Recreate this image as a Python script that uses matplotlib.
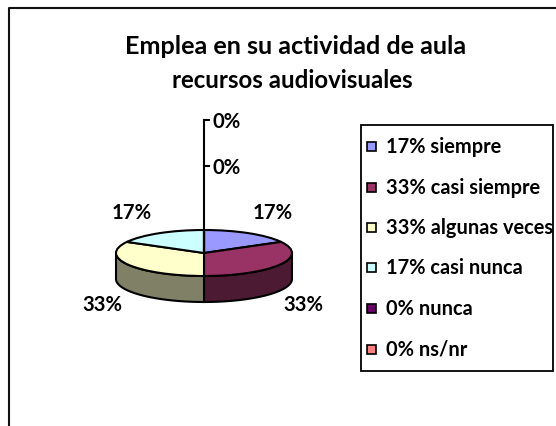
import numpy as np
import matplotlib
matplotlib.use("Agg")
import matplotlib.pyplot as plt
from matplotlib.patches import Rectangle

W, H = 556, 426
CX, CY, RX, RY, DEPTH = 204, 253, 88, 23, 26

categories = ["siempre", "casi siempre", "algunas veces", "casi nunca", "nunca", "ns/nr"]
percents = [17, 33, 33, 17, 0, 0]
face_colors = ["#9999FF", "#993366", "#FFFFCC", "#CCFFFF", "#660066", "#FF8080"]
side_colors = ["#4D4D80", "#4D1A33", "#808066", "#668080", "#330033", "#804040"]
title_lines = ["Emplea en su actividad de aula", "recursos audiovisuales"]

plt.rcParams["font.family"] = ["Lato", "DejaVu Sans"]
FS_LABEL = 14.6
FS_LEGEND = 14.4
FS_TITLE = [18.2, 17.3]
LW = 1.5
BLK = "#000000"

fig = plt.figure(figsize=(W / 100, H / 100), dpi=100, facecolor="white")
ax = fig.add_axes([0, 0, 1, 1])
wedges, _ = ax.pie(percents, colors=face_colors, startangle=90, counterclock=False,
                   wedgeprops=dict(edgecolor=BLK, linewidth=LW, zorder=3))
ax.set_aspect("auto")
ax.set_xlim(-CX / RX, (W - CX) / RX)
ax.set_ylim((CY - H) / RY, CY / RY)


def px(x, y):
    return (x - CX) / RX, (CY - y) / RY


# side walls of the disc, from the wedge angles
d = DEPTH / RY
for w, col in zip(wedges, side_colors):
    a, b = w.theta1, w.theta2
    if b <= a:
        continue
    angles = np.linspace(a, b, 200)
    front = angles[np.sin(np.radians(angles)) <= 0]
    if front.size == 0:
        continue
    xs, ys = np.cos(np.radians(front)), np.sin(np.radians(front))
    poly_x = np.r_[xs, xs[::-1]]
    poly_y = np.r_[ys, ys[::-1] - d]
    ax.fill(poly_x, poly_y, facecolor=col, edgecolor=BLK, linewidth=LW, zorder=2)

# value axis
ax.plot(*zip(px(CX, 120), px(CX, CY)), color=BLK, lw=LW, zorder=4)
for y in (120, 166):
    ax.plot(*zip(px(CX, y), px(CX + 5, y)), color=BLK, lw=LW, zorder=4)

# data labels
label_pos = [(273, 213), (303, 305), (102, 305), (132, 213), (227, 168), (227, 122)]
for p, (x, y) in zip(percents, label_pos):
    ax.text(*px(x, y), f"{p}%", ha="center", va="center", fontsize=FS_LABEL, fontweight="bold", color=BLK)

# title
for line, x, y, fs in zip(title_lines, (296, 292), (47, 81), FS_TITLE):
    ax.text(*px(x, y), line, ha="center", va="center", fontsize=fs, fontweight="bold", color=BLK)

# chart frame
ax.plot(*zip(px(9, H + 2), px(9, 8), px(W + 2, 8)), color="#111111", lw=1.5, zorder=5, clip_on=True)

# legend
labels = [f"{p}% {c}" for p, c in zip(percents, categories)]
ax.add_patch(Rectangle(px(361, 371), 192 / RX, 246 / RY, facecolor="white", edgecolor=BLK, lw=1.3, zorder=6))
rows = [147, 188, 228, 268, 309, 350]
for lab, col, y in zip(labels, face_colors, rows):
    x0, y0 = px(367, y + 4)
    ax.add_patch(Rectangle((x0, y0), 9 / RX, 9 / RY, facecolor=col, edgecolor=BLK, lw=1.2, zorder=7))
    ax.text(*px(386, y), lab, ha="left", va="center", fontsize=FS_LEGEND, fontweight="bold", color=BLK, zorder=7)

fig.savefig("out.png", dpi=100, facecolor="white")
